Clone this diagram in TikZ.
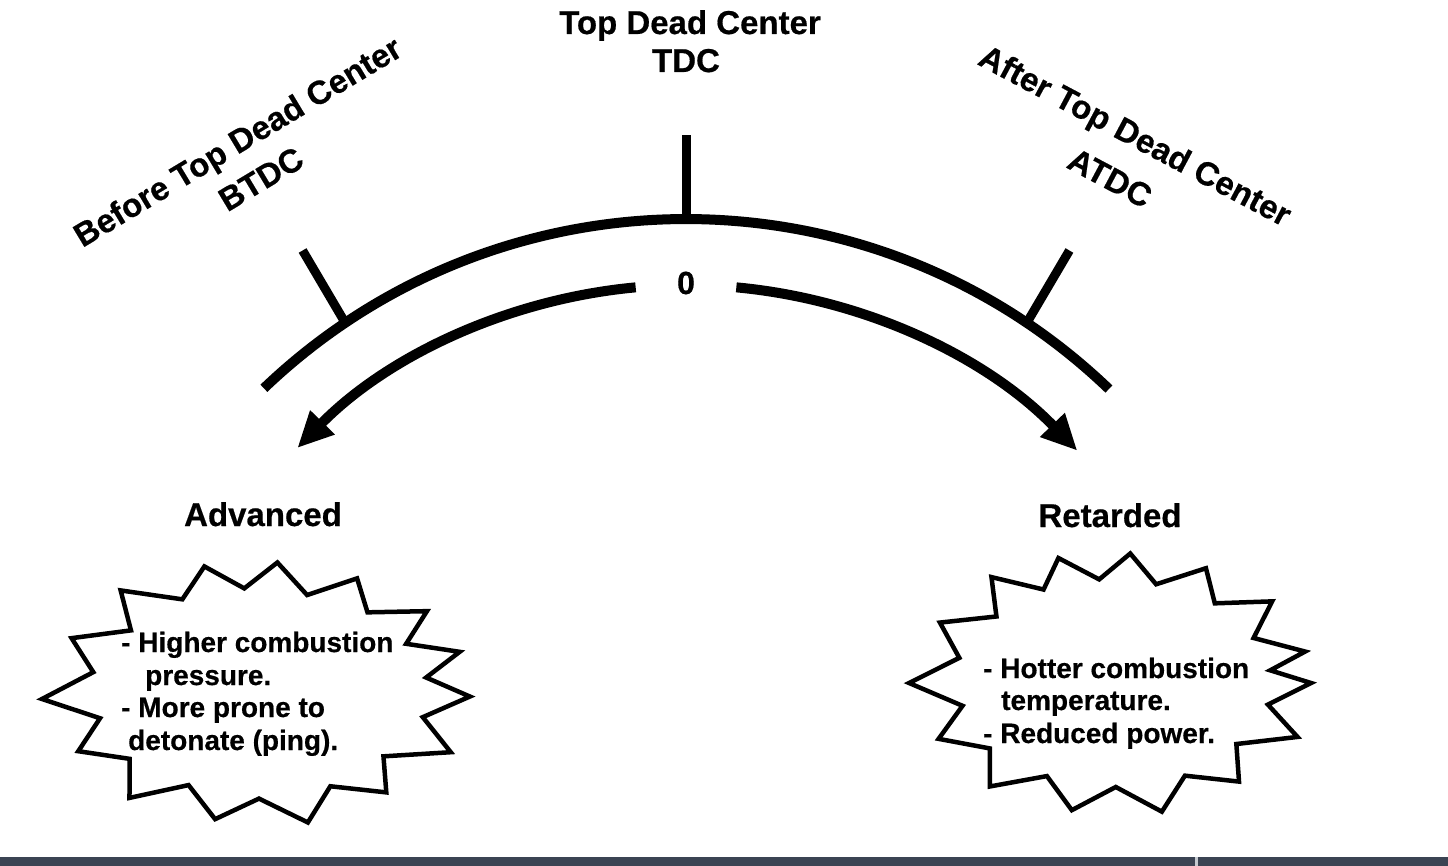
\documentclass[tikz,border=0pt]{standalone}
\usepackage{fontspec}
\setmainfont[BoldFeatures={FakeBold=0.5}]{Liberation Sans}
\usetikzlibrary{arrows.meta,calc}
\definecolor{barcol}{HTML}{3B4453}
\definecolor{sepcol}{HTML}{C5CAD0}
\begin{document}
\begin{tikzpicture}[x=1pt,y=-1pt,
  scaleline/.style={line width=10pt},
  tickline/.style={line width=9pt},
  arrowline/.style={line width=10pt,-{Triangle[length=36pt,width=32pt]}},
  burst/.style={line width=4.5pt,line join=miter,fill=white},
  biglbl/.style={font=\fontsize{33}{38}\selectfont\bfseries,inner sep=0pt},
  boxtxt/.style={font=\fontsize{28}{32}\selectfont\bfseries,inner sep=0pt,anchor=base west},
]
\useasboundingbox (0,0) rectangle (1448,866);
\fill[white] (0,0) rectangle (1448,866);
\fill[barcol] (0,857) rectangle (1448,866);
\fill[sepcol] (1195,857) rectangle (1198,866);

% scale arc
\coordinate (C) at (686,830);
\draw[scaleline] ([shift={(226.3:611)}]C) arc[start angle=226.3,end angle=313.8,radius=611];

% ticks
\coordinate (Tb) at ([shift={(270:611)}]C);
\coordinate (Tt) at ([shift={(270:84)}]Tb);
\coordinate (Lb) at ([shift={(236.1:611)}]C);
\coordinate (Lt) at ([shift={(239.5:84)}]Lb);
\coordinate (Rb) at ([shift={(303.9:611)}]C);
\coordinate (Rt) at ([shift={(300.5:84)}]Rb);
\draw[tickline] (Tb) -- (Tt);
\draw[tickline] (Lb) -- (Lt);
\draw[tickline] (Rb) -- (Rt);

% arrows
\draw[arrowline] ([shift={(264.7:545)}]C) arc[start angle=264.7,end angle=224.5,radius=545];
\draw[arrowline] ([shift={(275.3:545)}]C) arc[start angle=275.3,end angle=315.9,radius=545];
\node[font=\fontsize{32}{36}\selectfont\bfseries,inner sep=0pt] (zero) at (686,283) {0};

% labels
\node[biglbl,anchor=base] (tdcA) at (690,34) {Top Dead Center};
\node[biglbl,anchor=base] (tdcB) at (686,72) {TDC};
\node[biglbl,rotate=31] (btdcA) at (239,144) {Before Top Dead Center};
\node[biglbl,rotate=31] (btdcB) at (261,179) {BTDC};
\node[biglbl,rotate=-28] (atdcA) at (1134,138) {After Top Dead Center};
\node[biglbl,rotate=-28] (atdcB) at (1110,178) {ATDC};
\node[biglbl,anchor=base] (adv) at (263,526) {Advanced};
\node[biglbl,anchor=base] (ret) at (1110,527) {Retarded};

% bursts
\coordinate (LC) at (259,692);
\coordinate (RC) at (1113,683);
\draw[burst] ([shift={(352:{211*0.8} and {130*0.8})}]LC)
  \foreach \a/\f in {2/1.0,14/0.8,27/1.02,40/0.77,52/0.98,65/0.8,77/1.03,90/0.82,102/1.0,115/0.79,127/1.02,140/0.8,152/0.97,165/0.78,177/1.03,191/0.8,205/0.98,218/0.77,230/1.02,243/0.8,255/1.0,265/0.8,275/1.0,287/0.78,298/0.99,310/0.8,322/1.01,332/0.79,342/1.0}
  { -- ([shift={(\a:{211*\f} and {130*\f})}]LC) } -- cycle;
\draw[burst] ([shift={(353:{198*0.8} and {130*0.8})}]RC)
  \foreach \a/\f in {0/1.0,12/0.8,24/1.02,37/0.78,50/0.99,63/0.8,76/1.02,89/0.8,102/1.0,115/0.79,128/1.01,141/0.8,154/0.98,167/0.78,180/1.03,194/0.8,208/0.99,221/0.78,233/1.02,244/0.8,254/1.0,265/0.8,275/1.0,286/0.79,298/1.0,310/0.8,322/1.02,334/0.79,346/1.0}
  { -- ([shift={(\a:{198*\f} and {130*\f})}]RC) } -- cycle;

% burst texts
\node[boxtxt] (a1) at (121,652) {- Higher combustion};
\node[boxtxt] (a2) at (145,685) {pressure.};
\node[boxtxt] (a3) at (121,717) {- More prone to};
\node[boxtxt] (a4) at (128,750) {detonate (ping).};
\node[boxtxt] (r1) at (983,678) {- Hotter combustion};
\node[boxtxt] (r2) at (1001,710) {temperature.};
\node[boxtxt] (r3) at (983,743) {- Reduced power.};
\end{tikzpicture}
\end{document}
